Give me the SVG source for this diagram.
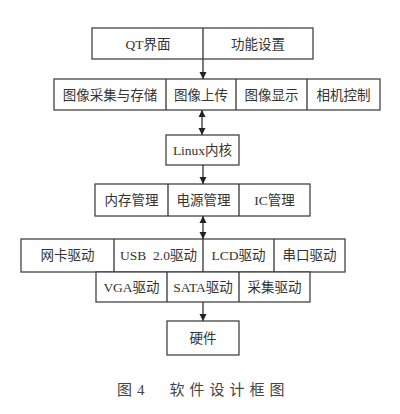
<svg xmlns="http://www.w3.org/2000/svg" width="400" height="414" viewBox="0 0 400 414">
<defs>
<style>
.b{fill:#fff;stroke:#444;stroke-width:1.3}
.c{stroke:#333;stroke-width:1.3;fill:none}
text{font-family:"Liberation Serif","Noto Sans CJK SC",serif;font-size:13.5px;fill:#333;text-anchor:middle}
.cap{font-size:15px;fill:#444;letter-spacing:5px;text-anchor:start}
</style>
<marker id="ah" markerWidth="8" markerHeight="8" refX="7" refY="4" orient="auto-start-reverse" markerUnits="userSpaceOnUse">
<path d="M0,0.5 L7,4 L0,7.5 Z" fill="#222"/>
</marker>
</defs>
<rect width="400" height="414" fill="#fff"/>
<g id="top">
<rect class="b" x="92" y="28" width="221" height="31"/>
<text x="148" y="49">QT界面</text>
<text x="258" y="49">功能设置</text>
</g>
<g id="app">
<rect class="b" x="54" y="79" width="326" height="31"/>
<line class="c" x1="166" y1="79" x2="166" y2="110"/>
<line class="c" x1="236" y1="79" x2="236" y2="110"/>
<line class="c" x1="307" y1="79" x2="307" y2="110"/>
<text x="110" y="100">图像采集与存储</text>
<text x="201" y="100">图像上传</text>
<text x="271.5" y="100">图像显示</text>
<text x="343.5" y="100">相机控制</text>
</g>
<g id="kernel">
<rect class="b" x="166" y="135" width="73" height="30"/>
<text x="202.5" y="155">Linux内核</text>
</g>
<g id="mgmt">
<rect class="b" x="95" y="184" width="215" height="32"/>
<line class="c" x1="168" y1="184" x2="168" y2="216"/>
<line class="c" x1="239" y1="184" x2="239" y2="216"/>
<text x="131.5" y="205">内存管理</text>
<text x="203.5" y="205">电源管理</text>
<text x="274.5" y="205">IC管理</text>
</g>
<g id="drv1">
<rect class="b" x="21" y="239" width="324" height="33"/>
<line class="c" x1="114" y1="239" x2="114" y2="272"/>
<line class="c" x1="274" y1="239" x2="274" y2="272"/>
<text x="67.5" y="260">网卡驱动</text>
<text x="158.5" y="260" style="white-space:pre">USB  2.0驱动</text>
<text x="238.5" y="260">LCD驱动</text>
<text x="309.5" y="260">串口驱动</text>
</g>
<g id="drv2">
<rect class="b" x="96" y="272" width="214" height="30"/>
<line class="c" x1="167" y1="272" x2="167" y2="302"/>
<line class="c" x1="239" y1="272" x2="239" y2="302"/>
<text x="131.5" y="292">VGA驱动</text>
<text x="203" y="292">SATA驱动</text>
<text x="274.5" y="292">采集驱动</text>
</g>
<g id="hw">
<rect class="b" x="167" y="321" width="72" height="34"/>
<text x="203" y="343">硬件</text>
</g>
<g id="connectors">
<line class="c" x1="203" y1="28" x2="203" y2="79" marker-end="url(#ah)"/>
<line class="c" x1="202" y1="110" x2="202" y2="135" marker-start="url(#ah)" marker-end="url(#ah)"/>
<line class="c" x1="203" y1="165" x2="203" y2="184" marker-end="url(#ah)"/>
<line class="c" x1="203" y1="216" x2="203" y2="239" marker-start="url(#ah)" marker-end="url(#ah)"/>
<line class="c" x1="203" y1="239" x2="203" y2="272"/>
<line class="c" x1="203" y1="302" x2="203" y2="321" marker-end="url(#ah)"/>
</g>
<text class="cap" x="117" y="395">图4　软件设计框图</text>
</svg>
